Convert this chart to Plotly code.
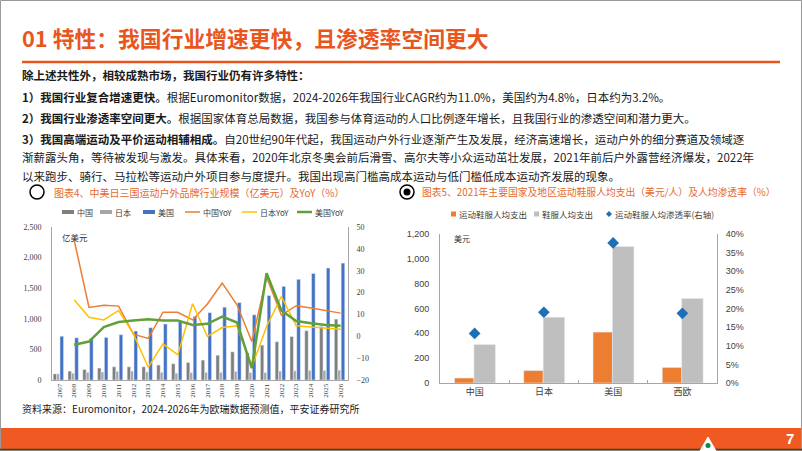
import plotly.graph_objects as go

W, H = 802, 451
def px(x): return x / W
def py(y): return 1 - y / H

# ---------------- data: chart 4 ----------------
years = ["2007","2008","2009","2010","2011","2012","2013","2014","2015","2016",
         "2017","2018","2019","2020","2021","2022","2023","2024","2025","2026"]
china = [100,145,170,195,215,215,215,245,265,285,325,405,460,445,570,625,710,805,875,995]
japan = [100,110,125,130,140,145,130,125,110,120,125,125,140,120,120,145,150,155,155,160]
usa = [715,690,680,695,740,800,855,915,965,1040,1100,1190,1265,1065,1380,1530,1645,1740,1830,1910]
china_yoy = [None,44,13.2,14.2,13.8,1,-1,11,11,7.5,14.8,24.3,14.4,-2.4,27,9.7,14,12.9,11.8,10.6]
japan_yoy = [None,16.7,8.7,7.5,11.8,1.1,-14.2,-3.5,-8.5,14.9,-0.1,4,4.8,-14,4.5,18.2,4.8,4.2,3.7,3.2]
usa_yoy = [None,-3.9,-2.4,4.2,6.5,7.2,7.8,7.2,7.2,5.2,5.7,9,6.3,-14.6,28.9,11.8,7,6,5.2,4.8]
left_names = ["中国","日本","美国","中国YoY","日本YoY","美国YoY"]

# ---------------- data: chart 5 ----------------
regions = ["中国","日本","美国","西欧"]
sport_spend = [40,100,410,125]
apparel_spend = [310,530,1100,680]
penetration = [0.133,0.19,0.376,0.187]
right_names = ["运动鞋服人均支出","鞋服人均支出","运动鞋服人均渗透率(右轴)"]

CJK = "Noto Sans CJK SC"
ORANGE = "#E8561E"
C_CN, C_JP, C_US = "#7F7F7F", "#A6A6A6", "#4472C4"
C_CNY, C_JPY, C_USY = "#ED7D31", "#FFC000", "#5FA03A"
C_SP, C_AP, C_PEN = "#ED7D31", "#BFBFBF", "#1F6FB5"

fig = go.Figure()

# chart 4 bars
fig.add_bar(x=years, y=china, name=left_names[0], marker_color=C_CN,
            offset=-0.42, width=0.23, xaxis="x", yaxis="y")
fig.add_bar(x=years, y=japan, name=left_names[1], marker_color=C_JP,
            offset=-0.19, width=0.19, xaxis="x", yaxis="y")
fig.add_bar(x=years, y=usa, name=left_names[2], marker_color=C_US,
            offset=0.04, width=0.24, xaxis="x", yaxis="y")
# chart 4 lines
fig.add_scatter(x=years, y=china_yoy, name=left_names[3], mode="lines",
                line=dict(color=C_CNY, width=1.5), xaxis="x", yaxis="y2")
fig.add_scatter(x=years, y=japan_yoy, name=left_names[4], mode="lines",
                line=dict(color=C_JPY, width=1.5), xaxis="x", yaxis="y2")
fig.add_scatter(x=years, y=usa_yoy, name=left_names[5], mode="lines",
                line=dict(color=C_USY, width=2.5), xaxis="x", yaxis="y2")

# chart 5
fig.add_bar(x=regions, y=sport_spend, name=right_names[0], marker_color=C_SP,
            offset=-0.29, width=0.28, xaxis="x3", yaxis="y3")
fig.add_bar(x=regions, y=apparel_spend, name=right_names[1], marker_color=C_AP,
            offset=-0.01, width=0.31, xaxis="x3", yaxis="y3")
fig.add_scatter(x=regions, y=penetration, name=right_names[2], mode="markers",
                marker=dict(symbol="diamond", size=9, color=C_PEN),
                xaxis="x3", yaxis="y4")

axcol = "#A6A6A6"
tickfont_l = dict(family="Liberation Serif", size=8, color="#404040")
tickfont_r = dict(family="Liberation Sans", size=9, color="#404040")

fig.update_layout(
    width=W, height=H, margin=dict(l=0, r=0, t=0, b=0, autoexpand=False),
    paper_bgcolor="white", plot_bgcolor="white",
    barmode="overlay", showlegend=False,
    font=dict(family=CJK),
    xaxis=dict(domain=[px(52), px(348)], anchor="y", type="category",
               tickangle=-90, tickfont=dict(family="Liberation Serif", size=7, color="#404040"),
               showline=True, linecolor=axcol, showgrid=False, ticks=""),
    yaxis=dict(domain=[1 - 380 / H, 1 - 227 / H], anchor="x", range=[0, 2500], dtick=500,
               tickformat=",", tickfont=tickfont_l, showline=True, linecolor=axcol,
               showgrid=False, zeroline=False, ticklabelstandoff=8),
    yaxis2=dict(overlaying="y", side="right", anchor="x", range=[-20, 50], dtick=10,
                tickfont=tickfont_l, showline=True, linecolor=axcol, showgrid=False,
                zeroline=False, ticklabelstandoff=6),
    xaxis3=dict(domain=[px(440), px(717)], anchor="y3", type="category",
                tickfont=dict(family=CJK, size=9, color="#404040"),
                showline=True, linecolor=axcol, showgrid=False,
                ticks="inside", tickson="boundaries", ticklen=3, tickcolor=axcol),
    yaxis3=dict(domain=[1 - 383 / H, 1 - 234 / H], anchor="x3", range=[0, 1200], dtick=200,
                tickformat=",", tickfont=tickfont_r, showline=True, linecolor=axcol,
                showgrid=False, zeroline=False, ticklabelstandoff=8),
    yaxis4=dict(overlaying="y3", side="right", anchor="x3", range=[0, 0.4], dtick=0.05,
                tickformat=".0%", tickfont=tickfont_r, showline=True, linecolor=axcol,
                showgrid=False, zeroline=False, ticklabelstandoff=6),
)

shapes = []
def rect(x0, y0, x1, y1, color, **kw):
    shapes.append(dict(type="rect", xref="paper", yref="paper", x0=px(x0), x1=px(x1),
                       y0=py(y1), y1=py(y0), fillcolor=color, line=dict(width=0), **kw))
def hline(x0, x1, y, color, width):
    shapes.append(dict(type="line", xref="paper", yref="paper", x0=px(x0), x1=px(x1),
                       y0=py(y), y1=py(y), line=dict(color=color, width=width)))

# slide border
shapes.append(dict(type="rect", xref="paper", yref="paper", x0=px(0.5), x1=px(801.5),
                   y0=py(450.5), y1=py(0.5), line=dict(color="#9A9A9A", width=1)))
# title underline
hline(22, 780, 62, ORANGE, 2.5)
# bottom band
rect(0, 428, 802, 451, "#F05A22", layer="below")
hline(0, 802, 449.5, "#3C4A2A", 1.5)
# logo
shapes.append(dict(type="path", xref="paper", yref="paper",
                   path=f"M {px(700)} {py(451)} L {px(708)} {py(437)} L {px(716)} {py(451)} Z",
                   fillcolor="white", line=dict(color="white", width=1)))
shapes.append(dict(type="circle", xref="paper", yref="paper", x0=px(705.5), x1=px(710.5),
                   y0=py(448), y1=py(443), fillcolor="#0B8A4A", line=dict(width=0)))
# icons
shapes.append(dict(type="circle", xref="paper", yref="paper", x0=px(30), x1=px(44),
                   y0=py(199), y1=py(185), line=dict(color="black", width=1.5)))
shapes.append(dict(type="circle", xref="paper", yref="paper", x0=px(400), x1=px(414),
                   y0=py(199), y1=py(185), line=dict(color="black", width=1.5)))
shapes.append(dict(type="circle", xref="paper", yref="paper", x0=px(403.5), x1=px(410.5),
                   y0=py(195.5), y1=py(188.5), fillcolor="black", line=dict(width=0)))

def ann(x, y, text, size, color="#1A1A1A", family=CJK, xanchor="left"):
    fig.add_annotation(xref="paper", yref="paper", x=px(x), y=py(y), text=text,
                       showarrow=False, xanchor=xanchor, yanchor="middle",
                       font=dict(family=family, size=size, color=color))

# manual legend, chart 4
LY = 212
leg_left = [(62, "bar", C_CN), (100, "bar", C_JP), (143, "bar", C_US),
            (185, "line", C_CNY), (242, "line", C_JPY), (297, "line", C_USY)]
for (lx, kind, col), name in zip(leg_left, left_names):
    if kind == "bar":
        rect(lx, LY - 2, lx + 12, LY + 2, col)
    else:
        hline(lx, lx + 15, LY, col, 2.5 if col == C_USY else 1.5)
    ann(lx + (13 if kind == "bar" else 16), LY, name, 8, color="#404040")

# manual legend, chart 5
RY = 214
rect(451, RY - 2.5, 456, RY + 2.5, C_SP)
ann(457, RY, right_names[0], 8.5, color="#404040")
rect(534, RY - 2.5, 539, RY + 2.5, C_AP)
ann(540, RY, right_names[1], 8.5, color="#404040")
shapes.append(dict(type="path", xref="paper", yref="paper",
                   path=f"M {px(606)} {py(RY)} L {px(609)} {py(RY-3)} L {px(612)} {py(RY)} L {px(609)} {py(RY+3)} Z",
                   fillcolor=C_PEN, line=dict(width=0)))
ann(613, RY, right_names[2], 8.5, color="#404040")

fig.update_layout(shapes=shapes)

ann(20, 38, "<b>01 特性：我国行业增速更快，且渗透率空间更大</b>", 21.8, color=ORANGE)
ann(20, 75, "<b>除上述共性外，相较成熟市场，我国行业仍有许多特性：</b>", 11.5)
ann(20, 97, "<b>1）我国行业复合增速更快。</b>根据Euromonitor数据，2024-2026年我国行业CAGR约为11.0%，美国约为4.8%，日本约为3.2%。", 11.5)
ann(20, 118, "<b>2）我国行业渗透率空间更大。</b>根据国家体育总局数据，我国参与体育运动的人口比例逐年增长，且我国行业的渗透空间和潜力更大。", 11.5)
ann(20, 139, "<b>3）我国高端运动及平价运动相辅相成。</b>自20世纪90年代起，我国运动户外行业逐渐产生及发展，经济高速增长，运动户外的细分赛道及领域逐", 11.5)
ann(20, 157, "渐薪露头角，等待被发现与激发。具体来看，2020年北京冬奥会前后滑雪、高尔夫等小众运动茁壮发展，2021年前后户外露营经济爆发，2022年", 11.5)
ann(20, 176, "以来跑步、骑行、马拉松等运动户外项目参与度提升。我国出现高门槛高成本运动与低门槛低成本运动齐发展的现象。", 11.5)

ann(52, 192, "图表4、中美日三国运动户外品牌行业规模（亿美元）及YoY（%）", 10, color="#E5692B")
ann(420, 192, "图表5、2021年主要国家及地区运动鞋服人均支出（美元/人）及人均渗透率（%）", 9.8, color="#E5692B")
ann(60, 237, "亿美元", 8.5, color="#333333")
ann(452, 238, "美元", 8, color="#333333")

ann(20, 408, "资料来源：Euromonitor，2024-2026年为欧瑞数据预测值，平安证券研究所", 10)
ann(796, 438, "<b>7</b>", 15, color="white", family="Liberation Sans", xanchor="right")

fig.write_html("out.html", config={"displayModeBar": False},
               post_script="document.body.style.margin='0px';")
